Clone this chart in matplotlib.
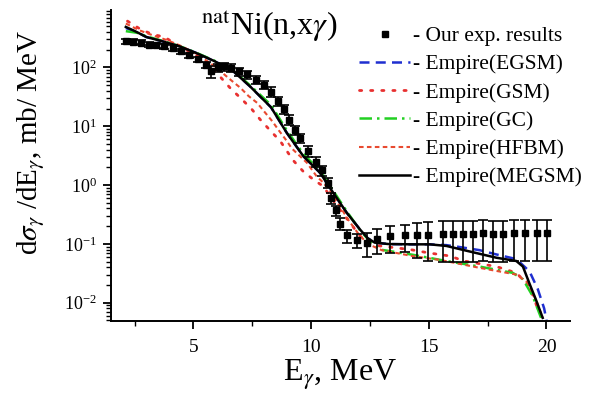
import numpy as np
import matplotlib
matplotlib.use("Agg")
import matplotlib.pyplot as plt
from matplotlib.ticker import MultipleLocator, LogLocator, NullFormatter

plt.rcParams['font.family'] = ['Liberation Serif', 'DejaVu Serif']
plt.rcParams['mathtext.fontset'] = 'stix'

# experimental points
e_exp = [2.13, 2.45, 2.77, 3.13, 3.41, 3.77, 4.12, 4.47, 4.83, 5.18, 5.53, 5.75, 6.03,
         6.3, 6.6, 6.94, 7.29, 7.64, 8.0, 8.28, 8.6, 8.85, 9.06, 9.3, 9.55, 9.86, 10.23,
         10.47, 10.71, 10.83, 11.04, 11.25, 11.53, 11.94, 12.36, 12.78, 13.35, 13.98,
         14.48, 14.96, 15.59, 16.02, 16.44, 16.86, 17.29, 17.71, 18.14, 18.64, 19.07,
         19.58, 20.04]
y_exp = [280, 275, 264, 246, 237, 230, 216, 189, 160, 137, 112, 86, 100,
         104, 99, 86, 76, 62, 51, 39, 27, 19.5, 13, 8.6, 6.3, 3.8, 2.5,
         1.8, 1.1, 0.6, 0.37, 0.22, 0.14, 0.115, 0.105, 0.123, 0.134, 0.142,
         0.142, 0.142, 0.149, 0.149, 0.149, 0.149, 0.152, 0.149, 0.149, 0.152, 0.152,
         0.152, 0.152]
err_exp = [28, 28, 26, 25, 24, 23, 22, 19, 17, 15, 14, 20, 15,
           16, 15, 13, 12, 10, 8.5, 7, 5, 3.5, 2.5, 1.6, 1.2, 0.75, 0.5,
           0.35, 0.22, 0.12, 0.07, 0.05, 0.035, 0.03, 0.045, 0.055, 0.065, 0.07,
           0.085, 0.09, 0.1, 0.1, 0.1, 0.1, 0.1, 0.1, 0.1, 0.1, 0.1,
           0.1, 0.1]

# Empire(MEGSM)
e_megsm = [2.13, 2.6, 3.0, 3.6, 4.4, 5.1, 5.9, 6.7, 7.4, 8.3, 8.97, 9.67, 10.38, 10.94,
           11.51, 12.08, 12.4, 12.7, 13.3, 14.3, 15.04, 15.75, 16.74, 17.87, 18.72,
           19.0, 19.28, 19.56, 19.84]
y_megsm = [490, 400, 330, 285, 230, 178, 128, 86, 48, 21, 7.7, 3.1, 1.62, 0.74,
           0.34, 0.175, 0.125, 0.105, 0.099, 0.098, 0.098, 0.092, 0.074, 0.058, 0.051,
           0.041, 0.021, 0.011, 0.0055]

# Empire(EGSM)
e_egsm = [2.13, 2.6, 3.0, 3.6, 4.4, 5.1, 5.9, 6.7, 7.4, 8.3, 8.97, 9.67, 10.38, 10.94,
          11.51, 12.08, 12.4, 12.7, 13.3, 14.3, 15.04, 15.75, 16.17, 17.16, 17.87,
          18.72, 19.28, 19.63, 19.9, 20.0]
y_egsm = [470, 400, 330, 285, 230, 178, 128, 86, 48, 21, 7.7, 3.1, 1.62, 0.74,
          0.34, 0.175, 0.125, 0.105, 0.099, 0.098, 0.098, 0.095, 0.09, 0.078, 0.066,
          0.055, 0.034, 0.017, 0.008, 0.005]

# Empire(GSM)
e_gsm = [2.2, 2.77, 3.27, 3.77, 4.4, 5.1, 5.6, 6.16, 6.58, 7.07, 7.49, 7.84, 8.26,
         8.69, 8.97, 9.25, 9.67, 10.1, 10.52, 10.8, 11.23, 11.65, 12.08, 12.5, 12.92,
         14.2, 15.0, 15.9, 16.5, 17.87, 18.72, 19.28, 19.7]
y_gsm = [615, 443, 365, 330, 230, 165, 120, 68, 44, 28.5, 19.3, 13, 8.5,
         5.6, 3.8, 2.6, 1.7, 1.24, 0.95, 0.65, 0.38, 0.23, 0.135, 0.1, 0.092,
         0.08, 0.07, 0.062, 0.051, 0.041, 0.032, 0.019, 0.0066]

# Empire(GC)
e_gc = [2.13, 2.6, 3.0, 3.6, 4.4, 5.1, 5.9, 6.7, 7.4, 8.3, 8.97, 9.67, 10.38, 10.94,
        11.51, 12.08, 12.5, 12.92, 14.33, 15.75, 17.16, 18.57, 19.0, 19.42, 19.77]
y_gc = [415, 390, 340, 290, 232, 180, 130, 88, 50, 23, 8.5, 3.4, 1.75, 0.8,
        0.36, 0.17, 0.11, 0.08, 0.065, 0.051, 0.041, 0.032, 0.025, 0.0128, 0.0055]

# Empire(HFBM)
e_hfbm = [2.13, 2.7, 3.3, 3.9, 4.5, 5.2, 5.9, 6.65, 7.0, 7.35, 7.71, 8.0, 8.35, 8.63,
          8.97, 9.18, 9.82, 10.24, 10.52, 10.8, 11.2, 11.6, 12.0, 12.4, 13.0, 14.3,
          15.5, 17.16, 18.72, 19.2, 19.56, 19.84]
y_hfbm = [560, 430, 350, 290, 230, 165, 105, 58.5, 45, 32.5, 25, 18, 12.2, 8.5,
          5.6, 4.2, 2.4, 1.4, 1.1, 0.8, 0.45, 0.25, 0.15, 0.1, 0.078, 0.062,
          0.053, 0.039, 0.03, 0.022, 0.011, 0.0055]

fig = plt.figure(figsize=(6, 4.01), dpi=100)
ax = fig.add_axes([0.185, 0.2, 0.765, 0.775])

ax.errorbar(e_exp, y_exp, yerr=err_exp, fmt='none', ecolor='black', elinewidth=1.2,
            capsize=3.5, capthick=1.2, zorder=3)
ax.plot(e_exp, y_exp, 's', color='black', ms=4, zorder=4, label='- Our exp. results')
ax.plot(e_egsm, y_egsm, color='#1f2fd0', lw=1.8, dashes=(4, 2.5), label='- Empire(EGSM)')
ax.plot(e_gsm, y_gsm, color='#e83030', lw=2, dashes=(0.8, 3.2), dash_capstyle='round',
        label='- Empire(GSM)')
ax.plot(e_gc, y_gc, color='#22d022', lw=1.8, dashes=(5, 2, 1, 2), label='- Empire(GC)')
ax.plot(e_hfbm, y_hfbm, color='#e84a30', lw=1.5, dashes=(2.2, 1.6), label='- Empire(HFBM)')
ax.plot(e_megsm, y_megsm, color='black', lw=1.8, label='- Empire(MEGSM)')

ax.set_yscale('log')
ax.set_xlim(1.5, 21)
ax.set_ylim(0.0049, 950)

ax.xaxis.set_major_locator(MultipleLocator(5))
ax.xaxis.set_minor_locator(MultipleLocator(2.5))
ax.yaxis.set_major_locator(LogLocator(base=10, numticks=10))
ax.yaxis.set_minor_locator(LogLocator(base=10, subs=np.arange(2, 10), numticks=10))
ax.yaxis.set_minor_formatter(NullFormatter())

ax.spines['top'].set_visible(False)
ax.spines['right'].set_visible(False)
ax.spines['left'].set_linewidth(1.4)
ax.spines['bottom'].set_linewidth(1.4)
ax.tick_params(which='major', direction='out', length=6, width=1.3)
ax.tick_params(which='minor', direction='out', length=3.5, width=1.0)
ax.tick_params(axis='x', labelsize=14, pad=7)
ax.tick_params(axis='y', labelsize=13, pad=4)

ax.set_xlabel(r'E$_{\gamma}$, MeV', fontsize=23)
ax.set_ylabel(r'd$\sigma_{\gamma}$ /dE$_{\gamma}$, mb/ MeV', fontsize=21)
ax.xaxis.set_label_coords(0.5, -0.12)
ax.yaxis.set_label_coords(-0.14, 0.575)

fig.text(0.335, 0.913, r'$^{\mathrm{nat}}$Ni(n,x$\gamma$)', fontsize=23, ha='left', va='baseline')

ax.legend(loc='upper right', bbox_to_anchor=(1.053, 0.99), frameon=False, fontsize=15.5,
          handlelength=2.4, handletextpad=0.1, labelspacing=0.38, borderaxespad=0.2)

fig.savefig('out.png', dpi=100)
